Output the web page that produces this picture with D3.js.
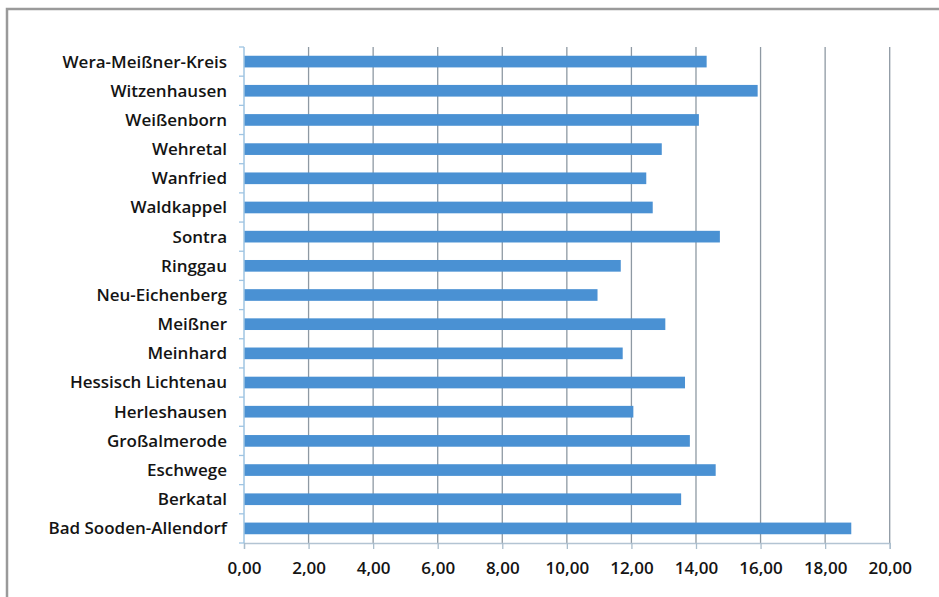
<!DOCTYPE html>
<html>
<head>
<meta charset="utf-8">
<script src="https://cdn.jsdelivr.net/npm/d3@7"></script>
<style>
  html, body { margin: 0; padding: 0; background: #fff; }
  svg { display: block; }
  text { font-family: "Open Sans", Lato, sans-serif; font-weight: 600; fill: #141414; }
</style>
</head>
<body>
<svg id="chart" width="939" height="597"></svg>
<script>
// Gemeinden im Werra-Meißner-Kreis, top to bottom
const categories = [
  "Wera-Meißner-Kreis", "Witzenhausen", "Weißenborn", "Wehretal", "Wanfried",
  "Waldkappel", "Sontra", "Ringgau", "Neu-Eichenberg", "Meißner", "Meinhard",
  "Hessisch Lichtenau", "Herleshausen", "Großalmerode", "Eschwege", "Berkatal",
  "Bad Sooden-Allendorf"
];
const values = [
  14.33, 15.91, 14.09, 12.94, 12.46,
  12.66, 14.74, 11.67, 10.95, 13.05, 11.73,
  13.66, 12.06, 13.81, 14.61, 13.54,
  18.81
];
const xTicks = [0, 2, 4, 6, 8, 10, 12, 14, 16, 18, 20];

const svg = d3.select("#chart");
const W = 939, H = 597;
const m = { left: 244, right: 50, top: 47, bottom: 54 };
const labelFont = "'Open Sans', Lato, sans-serif";

// frame around the chart area
svg.append("path")
  .attr("d", `M7,${H} L7,9 L${W},9`)
  .attr("fill", "none")
  .attr("stroke", "#9a9a9a")
  .attr("stroke-width", 2.5);

const x = d3.scaleLinear().domain([0, 20]).range([m.left, W - m.right + 0.7]);
const y = d3.scaleBand().domain(categories).range([m.top, H - m.bottom]).paddingInner(0.6).paddingOuter(0.3);

const fmt = v => v.toFixed(2).replace(".", ",");

// vertical gridlines
svg.append("g")
  .selectAll("line")
  .data(xTicks.filter(t => t > 0))
  .join("line")
  .attr("x1", d => x(d)).attr("x2", d => x(d))
  .attr("y1", m.top).attr("y2", H - m.bottom)
  .attr("stroke", "#8e99a3")
  .attr("stroke-width", 1.3);

// bars
svg.append("g")
  .selectAll("rect")
  .data(values)
  .join("rect")
  .attr("x", x(0))
  .attr("y", (d, i) => y(categories[i]))
  .attr("width", d => x(d) - x(0))
  .attr("height", y.bandwidth())
  .attr("fill", "#4a91d3");

// bottom axis
const xAxis = d3.axisBottom(x).tickValues(xTicks).tickFormat(fmt).tickSize(6).tickPadding(13);
const gx = svg.append("g")
  .attr("transform", `translate(0,${H - m.bottom})`)
  .call(xAxis);
gx.select(".domain").attr("stroke", "#b3c4d3").attr("stroke-width", 1.3);
gx.selectAll(".tick line").attr("stroke", "#a9bccb").attr("stroke-width", 1.3);
gx.selectAll(".tick text").attr("font-size", 17).attr("fill", "#141414")
  .style("font-family", labelFont).style("font-weight", 600);

// left axis with ticks at category boundaries
const gy = svg.append("g").attr("transform", `translate(${m.left},0)`);
gy.append("line")
  .attr("x1", 0).attr("x2", 0)
  .attr("y1", m.top).attr("y2", H - m.bottom)
  .attr("stroke", "#9fc4e2").attr("stroke-width", 1.5);
const step = (H - m.bottom - m.top) / categories.length;
gy.selectAll("line.tk")
  .data(d3.range(categories.length + 1))
  .join("line")
  .attr("class", "tk")
  .attr("x1", -5).attr("x2", 0)
  .attr("y1", i => m.top + i * step).attr("y2", i => m.top + i * step)
  .attr("stroke", "#9fc4e2").attr("stroke-width", 1.3);
gy.selectAll("text")
  .data(categories)
  .join("text")
  .attr("x", -17)
  .attr("y", d => y(d) + y.bandwidth() / 2)
  .attr("dy", "0.35em")
  .attr("text-anchor", "end")
  .attr("font-size", 17)
  .text(d => d);
</script>
</body>
</html>
